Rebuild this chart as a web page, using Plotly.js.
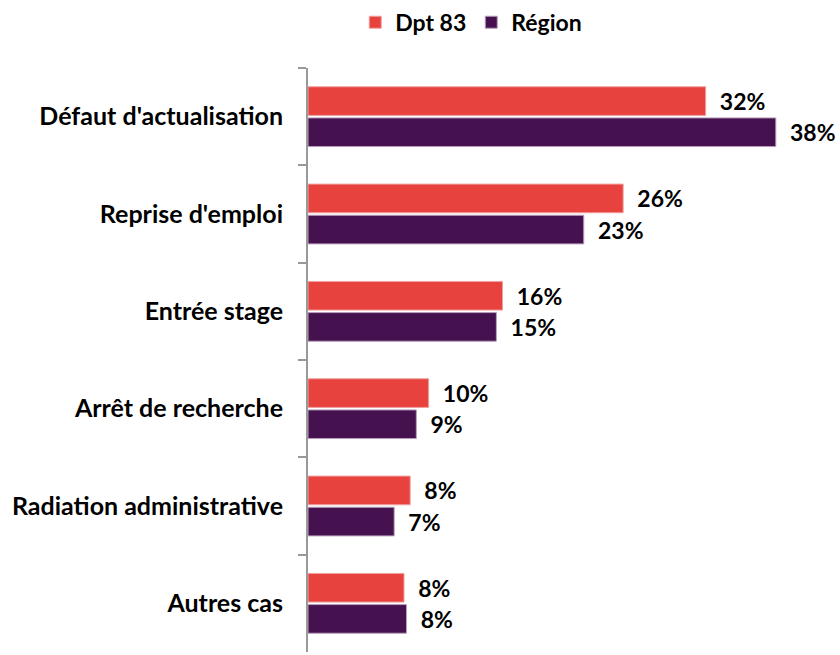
<!DOCTYPE html>
<html>
<head>
<meta charset="utf-8">
<script src="https://cdn.plot.ly/plotly-3.0.1.min.js"></script>
<style>html,body{margin:0;padding:0;background:#fff;}#chart{width:840px;height:655px;}</style>
</head>
<body>
<div id="chart"></div>
<script>
var categories = ["Défaut d'actualisation", "Reprise d'emploi", "Entrée stage", "Arrêt de recherche", "Radiation administrative", "Autres cas"];
var dptValues = [32.3, 25.6, 15.8, 9.8, 8.3, 7.8];
var regionValues = [38.0, 22.4, 15.3, 8.8, 7.0, 8.0];
var dptLabels = ["32%", "26%", "16%", "10%", "8%", "8%"];
var regionLabels = ["38%", "23%", "15%", "9%", "7%", "8%"];
var seriesNames = ["Dpt 83", "Région"];

var pad = "\u00A0\u00A0";
var font = "Lato, 'Open Sans', sans-serif";

var traces = [
  {
    type: "bar", orientation: "h", name: seriesNames[0],
    y: categories, x: dptValues,
    text: dptLabels.map(function(t){return pad + t;}),
    textposition: "outside", cliponaxis: false,
    textfont: {family: font, size: 23, color: "#000", weight: 700},
    marker: {color: "#E8423E", line: {color: "#F0A0A0", width: 1}},
    hoverinfo: "skip"
  },
  {
    type: "bar", orientation: "h", name: seriesNames[1],
    y: categories, x: regionValues,
    text: regionLabels.map(function(t){return pad + t;}),
    textposition: "outside", cliponaxis: false,
    textfont: {family: font, size: 23, color: "#000", weight: 700},
    marker: {color: "#46114F", line: {color: "#B8A0BC", width: 1}},
    hoverinfo: "skip"
  }
];

var layout = {
  width: 840, height: 655,
  margin: {l: 308, r: 10, t: 68, b: 3},
  paper_bgcolor: "#fff", plot_bgcolor: "#fff",
  barmode: "group", bargap: 0.36, bargroupgap: 0.08,
  showlegend: true,
  legend: {
    orientation: "h", x: 0.561, xanchor: "center", xref: "container",
    y: 0.966, yanchor: "middle", yref: "container",
    font: {family: font, size: 23, color: "#000", weight: 700},
    traceorder: "normal"
  },
  xaxis: {
    range: [0, 42.4], visible: false, showgrid: false, zeroline: false, fixedrange: true
  },
  yaxis: {
    autorange: "reversed", type: "category",
    showline: true, linecolor: "#999", linewidth: 2,
    ticks: "outside", tickson: "boundaries", ticklen: 8, tickcolor: "#999", tickwidth: 2,
    tickfont: {family: font, size: 25, color: "#000", weight: 700},
    ticklabelstandoff: 18,
    showgrid: false, zeroline: false
  },
  font: {family: font}
};

Plotly.newPlot("chart", traces, layout, {displayModeBar: false, staticPlot: true});
</script>
</body>
</html>
